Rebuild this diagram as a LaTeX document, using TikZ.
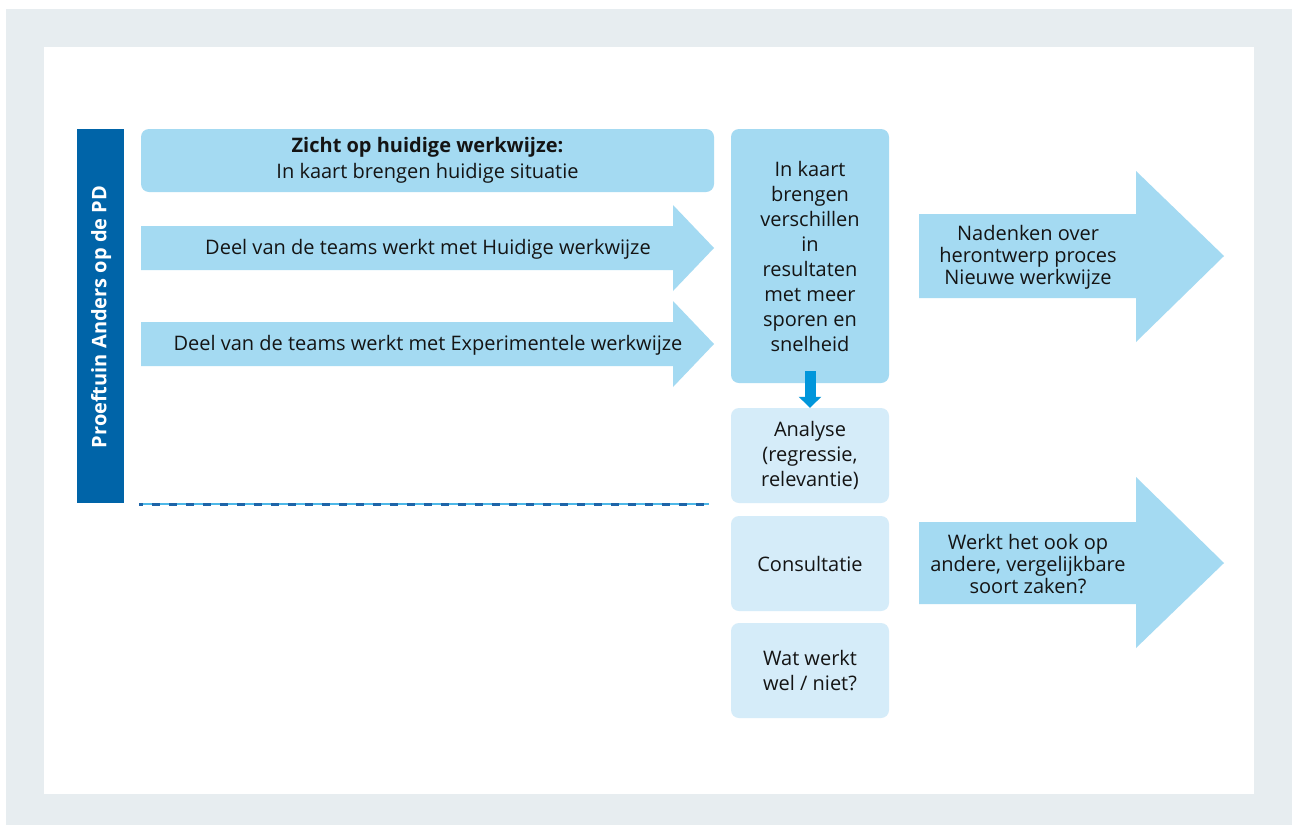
\documentclass[tikz,border=0pt]{standalone}
\usepackage{fontspec}
\setmainfont{Open Sans}
\usetikzlibrary{arrows.meta}
\definecolor{framegrey}{HTML}{E7EDF0}
\definecolor{barblue}{HTML}{0064A8}
\definecolor{lblue}{HTML}{A4DAF2}
\definecolor{llblue}{HTML}{D5ECF9}
\definecolor{midblue}{HTML}{0096DB}
\definecolor{dashdark}{HTML}{1E64A8}
\definecolor{dashlight}{HTML}{4DB8E8}
\definecolor{ink}{HTML}{141414}
\begin{document}
\begin{tikzpicture}[x=1pt,y=-1pt,
  txt/.style={text=ink, align=center, inner sep=0pt, font=\fontsize{20}{25}\selectfont},
  rbox/.style={txt, fill=lblue, rounded corners=8pt, minimum width=158pt, minimum height=95pt},
  lbox/.style={rbox, fill=llblue},
  arrowshape/.style={fill=lblue},
  rtxt/.style={txt, font=\fontsize{20}{22}\selectfont}
]
\useasboundingbox (0,0) rectangle (1292,825);
\fill[framegrey] (6,9) rectangle (1292,825);
\fill[white] (44,47) rectangle (1254,794);

% vertical bar
\node[fill=barblue, minimum width=47pt, minimum height=374pt, inner sep=0pt] (bar) at (100.5,316) {};
\node[rotate=90, text=white, font=\fontsize{20}{24}\selectfont\bfseries, inner sep=0pt] (bartxt) at (101,317) {Proeftuin Anders op de PD};

% top box
\node[rbox, minimum width=573pt, minimum height=63pt, font=\fontsize{20}{26}\selectfont] (zicht) at (427.5,160.5)
  {{\bfseries Zicht op huidige werkwijze:}\\In kaart brengen huidige situatie};

% left arrows
\fill[arrowshape] (141,226) -- (673,226) -- (673,205) -- (714,248) -- (673,291) -- (673,270) -- (141,270) -- cycle;
\node[txt] (huidig) at (428,249) {Deel van de teams werkt met Huidige werkwijze};
\fill[arrowshape] (141,322) -- (673,322) -- (673,301) -- (714,344) -- (673,387) -- (673,366) -- (141,366) -- cycle;
\node[txt] (exper) at (428,345) {Deel van de teams werkt met Experimentele werkwijze};

% middle column
\node[rbox, minimum height=254pt] (mid) at (810,256)
  {In kaart\\brengen\\verschillen\\in\\resultaten\\met meer\\sporen en\\snelheid};
\node[lbox] (ana) at (810,455.5) {Analyse\\(regressie,\\relevantie)};
\node[lbox] (cons) at (810,563.5) {Consultatie};
\node[lbox] (wat) at (810,670.5) {Wat werkt\\wel / niet?};

\draw[midblue, line width=11pt, -{Triangle[width=22pt,length=11pt]}]
  ([yshift=12pt]mid.south) -- (ana.north);

% right arrows
\fill[arrowshape] (919,214) -- (1136,214) -- (1136,171) -- (1224,256) -- (1136,342) -- (1136,298) -- (919,298) -- cycle;
\node[rtxt] (naden) at (1028,257) {Nadenken over\\herontwerp proces\\Nieuwe werkwijze};
\fill[arrowshape] (919,522) -- (1136,522) -- (1136,477) -- (1224,563) -- (1136,648) -- (1136,604) -- (919,604) -- cycle;
\node[rtxt] (werkt) at (1028,564) {Werkt het ook op\\andere, vergelijkbare\\soort zaken?};

% dashed line
\coordinate (dl) at (139,504);
\coordinate (dr) at (709,504);
\draw[dashlight, line width=1.5pt] (dl) -- (dr);
\draw[dashdark, line width=3pt, dash pattern=on 8pt off 9pt, dash phase=4pt] (dl) -- (dr);
\end{tikzpicture}
\end{document}
